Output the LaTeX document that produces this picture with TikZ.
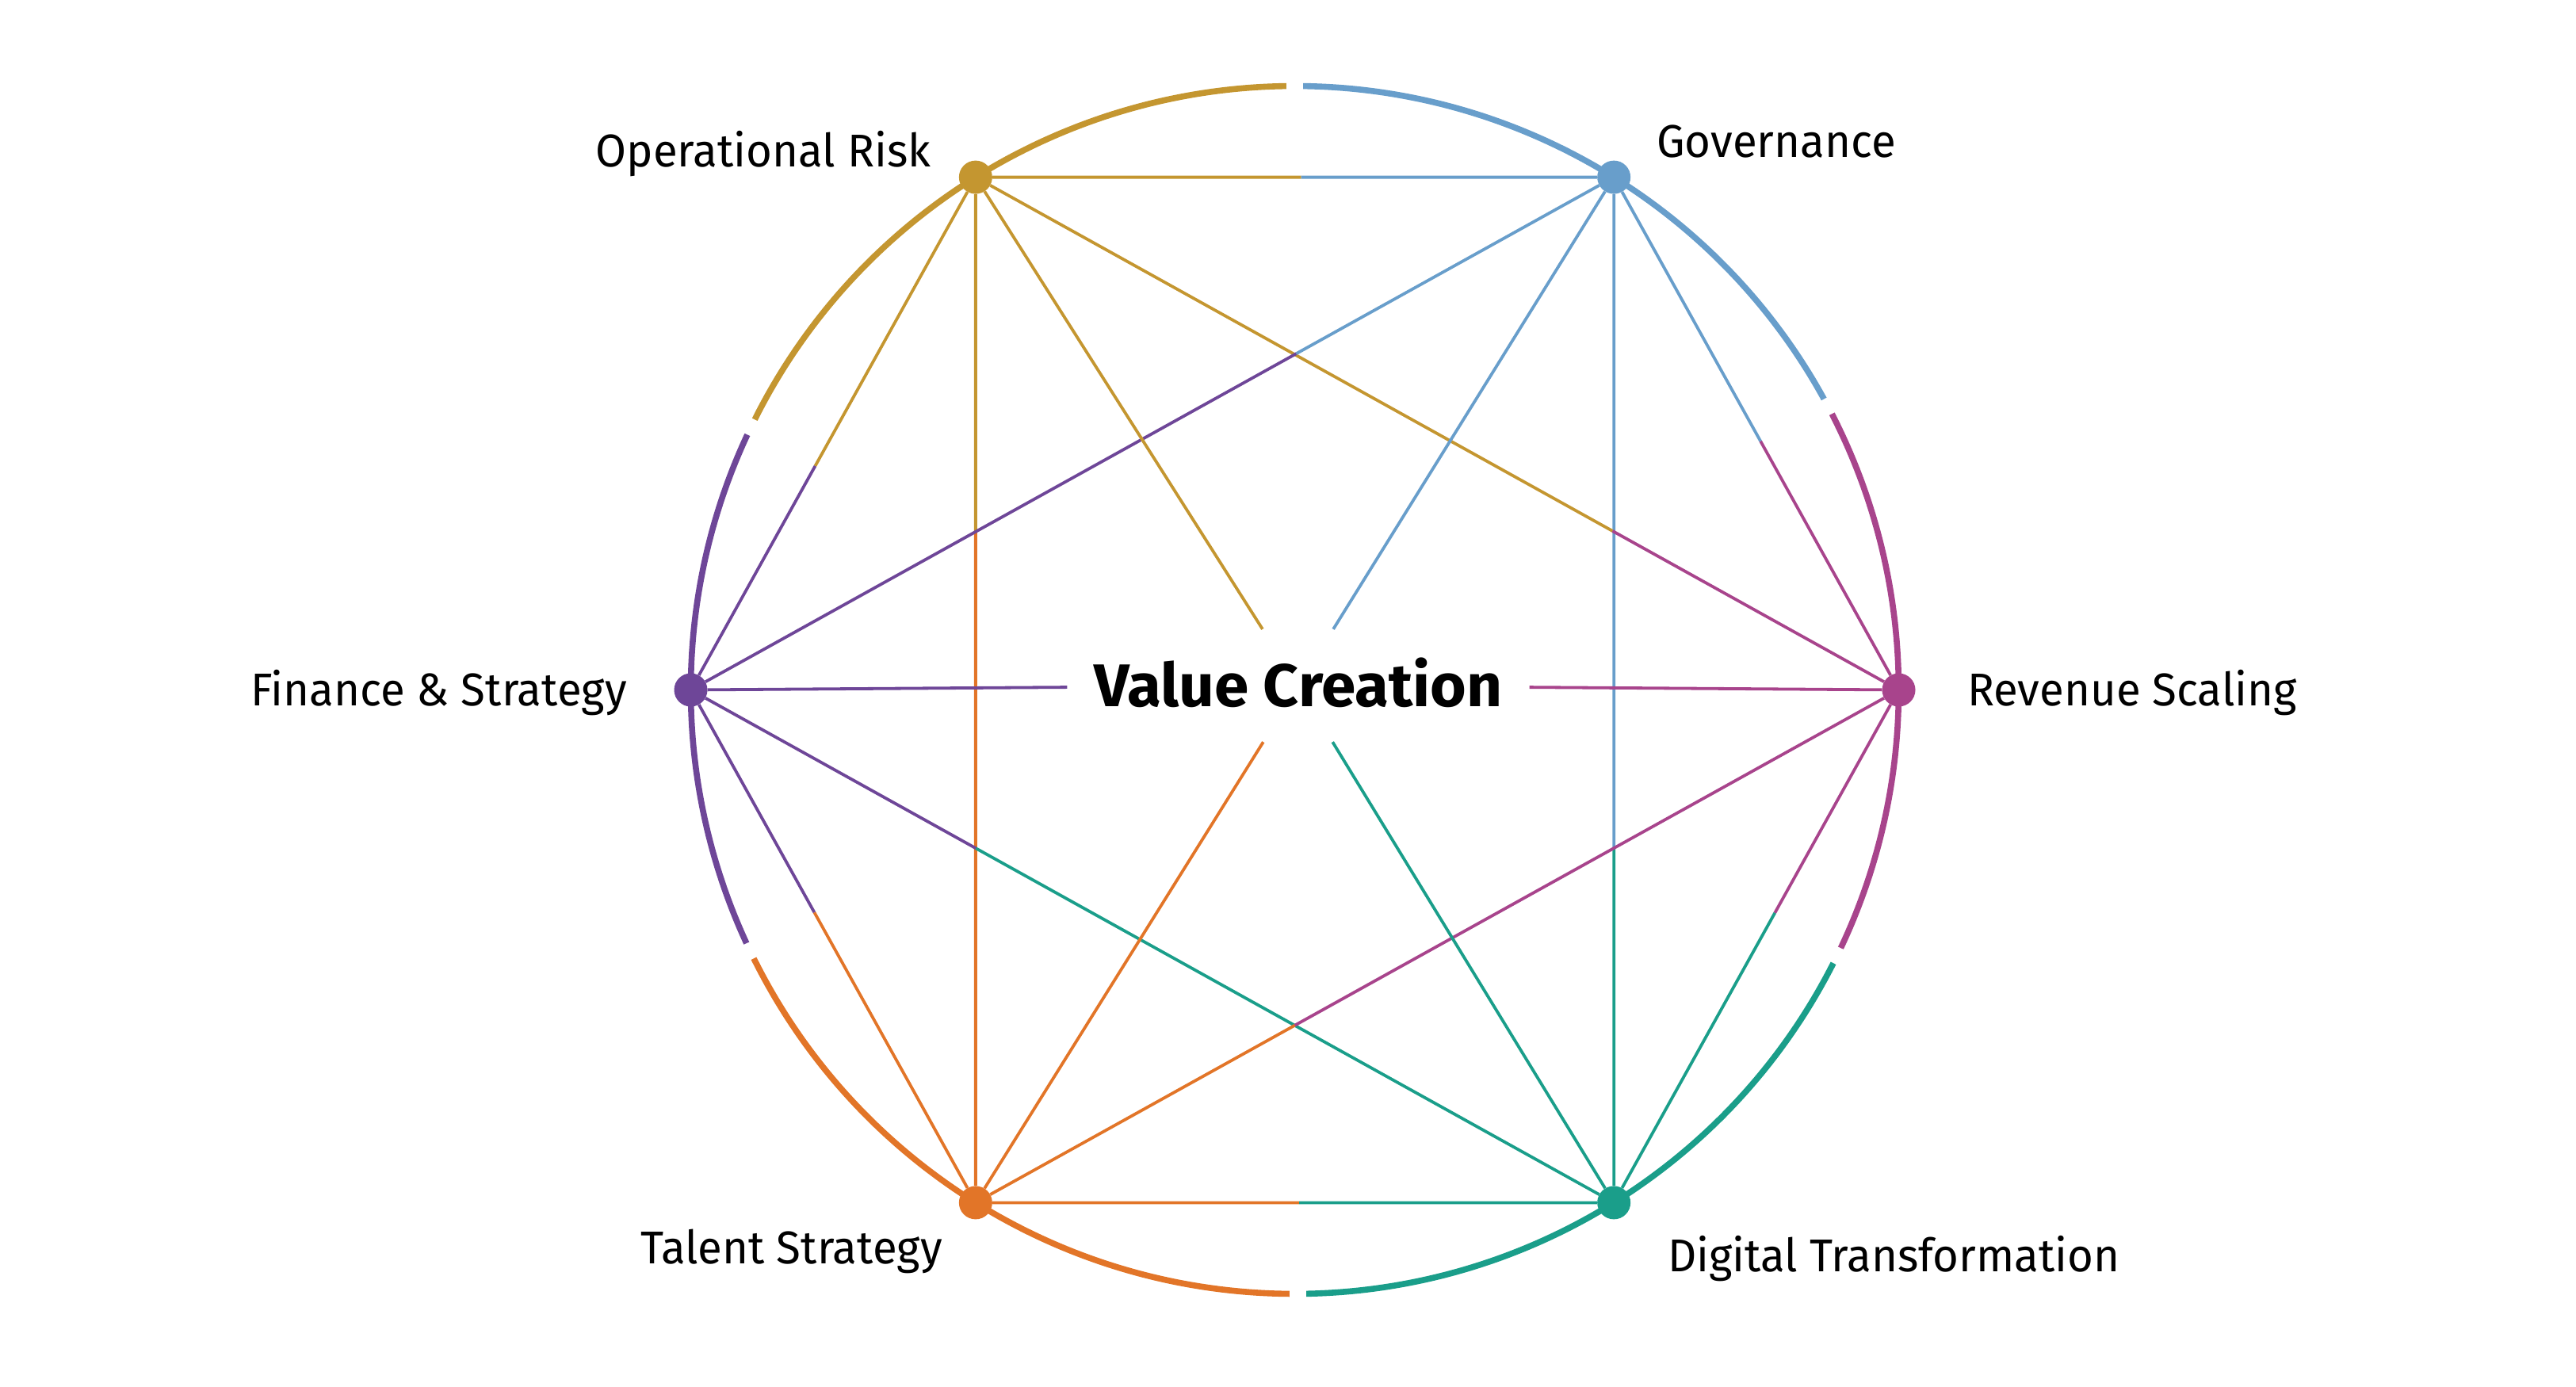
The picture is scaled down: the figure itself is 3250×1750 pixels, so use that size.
\documentclass[tikz,border=0pt]{standalone}
\usepackage{fontspec}
\setmainfont[FakeStretch=0.972]{Fira Sans}
\newfontfamily\centrefont[FakeStretch=1.03]{Fira Sans Bold}
\usetikzlibrary{calc,backgrounds}
\definecolor{cgold}{HTML}{C49630}
\definecolor{cblue}{HTML}{689ECB}
\definecolor{cmag}{HTML}{A8448C}
\definecolor{cteal}{HTML}{1A9E8A}
\definecolor{corange}{HTML}{E27528}
\definecolor{cpurple}{HTML}{6E4698}
\tikzset{
  dot/.style={circle,fill=#1,draw=none,inner sep=0pt,minimum size=42pt},
  edge/.style={line width=3.8pt,draw=#1},
  rim/.style={line width=7.6pt,draw=#1},
  lbl/.style={font=\fontsize{58}{70}\selectfont,text=black,inner sep=0pt},
  centre/.style={font=\centrefont\fontsize{76}{90}\selectfont,text=black,inner sep=0pt,
    minimum width=583pt,minimum height=142pt,text height=52pt,text depth=0pt},
}
\newcommand\splitedge[5]{%
  \coordinate (m#1#2) at ($(#1)!#3!(#2)$);
  \draw[edge=#4] (#1) -- (m#1#2);
  \draw[edge=#5] (m#1#2) -- (#2);
}
\newcommand\rimarc[3]{%
  \draw[rim=#3] ($(C)+(#1:762)$) arc[start angle=#1,end angle=#2,radius=762];
}
\begin{document}
\begin{tikzpicture}[x=1pt,y=1pt]
\useasboundingbox (0,0) rectangle (3250,-1750);
\coordinate (C) at (1633.5,-870.5);
% nodes
\node[dot=cmag]    (Rev) at ($(C)+(0:762)$) {};
\node[dot=cblue]   (Gov) at ($(C)+(58.1:762)$) {};
\node[dot=cgold]   (OR)  at ($(C)+(121.9:762)$) {};
\node[dot=cpurple] (Fin) at ($(C)+(180:762)$) {};
\node[dot=corange] (Tal) at ($(C)+(238.1:762)$) {};
\node[dot=cteal]   (Dig) at ($(C)+(301.9:762)$) {};
\node[centre] (vc) at (1638,-865) {Value Creation};
% labels
\node[lbl,anchor=base east] (lOR)  at (1174.5,-210.7) {Operational Risk};
\node[lbl,anchor=base west] (lGov) at (2090,-198) {Governance};
\node[lbl,anchor=base west] (lRev) at (2482,-890) {Revenue Scaling};
\node[lbl,anchor=base east] (lFin) at (791,-890) {Finance \& Strategy};
\node[lbl,anchor=base east] (lTal) at (1189,-1594) {Talent Strategy};
\node[lbl,anchor=base west] (lDig) at (2104,-1604) {Digital Transformation};
\begin{scope}[on background layer]
  % outer ring
  \rimarc{-25.3}{27.2}{cmag}
  \rimarc{28.8}{89.2}{cblue}
  \rimarc{90.8}{153.4}{cgold}
  \rimarc{155.0}{204.8}{cpurple}
  \rimarc{206.4}{269.5}{corange}
  \rimarc{271.1}{333.1}{cteal}
  % hexagon sides
  \splitedge{OR}{Gov}{0.51}{cgold}{cblue}
  \splitedge{Gov}{Rev}{0.515}{cblue}{cmag}
  \splitedge{Rev}{Dig}{0.435}{cmag}{cteal}
  \splitedge{Tal}{Dig}{0.507}{corange}{cteal}
  \splitedge{Fin}{Tal}{0.434}{cpurple}{corange}
  \splitedge{Fin}{OR}{0.437}{cpurple}{cgold}
  % short diagonals
  \splitedge{OR}{Tal}{0.345}{cgold}{corange}
  \splitedge{Gov}{Dig}{0.654}{cblue}{cteal}
  \splitedge{OR}{Rev}{0.69}{cgold}{cmag}
  \splitedge{Fin}{Gov}{0.656}{cpurple}{cblue}
  \splitedge{Fin}{Dig}{0.309}{cpurple}{cteal}
  \splitedge{Tal}{Rev}{0.346}{corange}{cmag}
  % diameters, interrupted by the centre label
  \draw[edge=cgold]    (OR)  -- (vc);
  \draw[edge=cteal]    (Dig) -- (vc);
  \draw[edge=cblue]    (Gov) -- (vc);
  \draw[edge=corange]  (Tal) -- (vc);
  \draw[edge=cpurple]  (Fin) -- (vc);
  \draw[edge=cmag]     (Rev) -- (vc);
\end{scope}
\end{tikzpicture}
\end{document}
